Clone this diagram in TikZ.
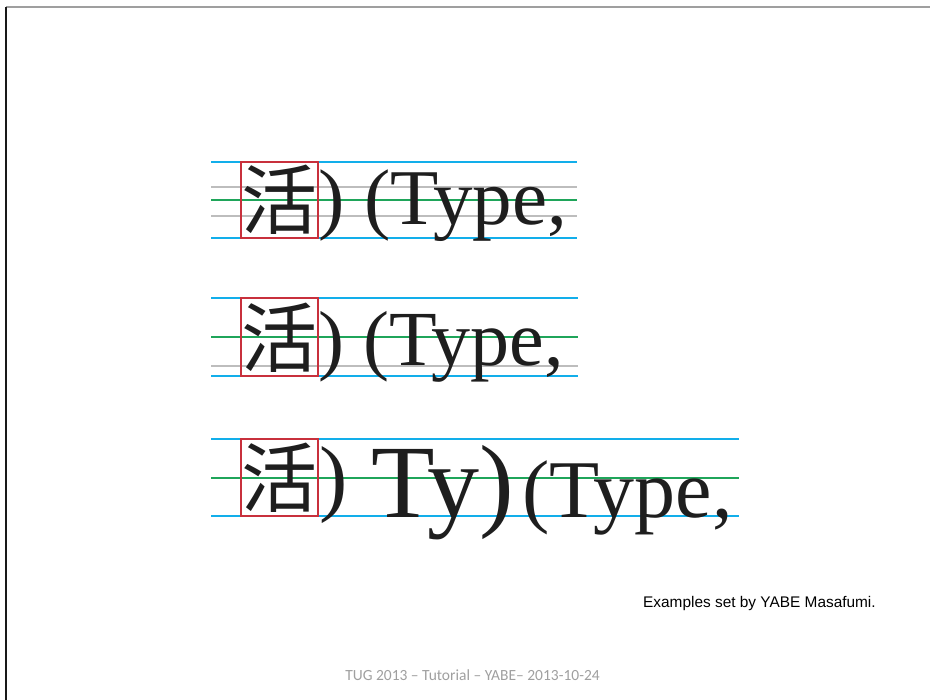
\documentclass[tikz,border=0pt]{standalone}
\usepackage{fontspec}
\setmainfont{Liberation Serif}
\newfontfamily\cjk{Noto Sans CJK JP}
\newfontfamily\capfont{Liberation Sans}
\newfontfamily\footfont{Carlito}
\definecolor{cyanl}{HTML}{12AEEA}
\definecolor{greenl}{HTML}{1FA55A}
\definecolor{grayl}{HTML}{BDBDBD}
\definecolor{redbox}{HTML}{C8303C}
\definecolor{inkc}{HTML}{1E1E1E}
\tikzset{
  guide/.style={line width=1.8pt},
  kbox/.style={draw=redbox, line width=1.4pt},
  glyphs/.style={inner sep=0pt, outer sep=0pt, anchor=base west, text=inkc},
  kanji/.style={glyphs, font=\cjk\fontsize{76}{76}\selectfont},
}
\begin{document}
\begin{tikzpicture}[x=1pt, y=-1pt]
\useasboundingbox (0,0) rectangle (930,700);
% frame
\draw[line width=1.8pt, gray!75] (6,7) -- (930,7);
\draw[line width=1.4pt, black!90] (6,7) -- (6,700);

% ---------- row 1
\draw[guide, cyanl] (211,162) -- (577,162);
\draw[guide, grayl] (211,187) -- (577,187);
\draw[guide, greenl] (211,200) -- (577,200);
\draw[guide, grayl] (211,216) -- (577,216);
\draw[guide, cyanl] (211,238) -- (577,238);
\node[kanji] (k1) at (241,228.9) {活};
\draw[kbox] (241,162) rectangle (318,238);
\node[glyphs, font=\fontsize{79}{79}\selectfont] (t1) at (318,225) {) (Type,};

% ---------- row 2
\draw[guide, cyanl] (211,298) -- (578,298);
\draw[guide, greenl] (211,337) -- (578,337);
\draw[guide, grayl] (211,366) -- (578,366);
\draw[guide, cyanl] (211,376) -- (578,376);
\node[kanji] (k2) at (241,366.9) {活};
\draw[kbox] (241,298) rectangle (318,376);
\node[glyphs, font=\fontsize{78}{78}\selectfont] (t2) at (318,366) {) (Type,};

% ---------- row 3
\draw[guide, cyanl] (211,439) -- (739,439);
\draw[guide, greenl] (211,478) -- (739,478);
\draw[guide, cyanl] (211,516) -- (739,516);
\node[kanji] (k3) at (241,506.9) {活};
\draw[kbox] (241,439) rectangle (318,516);
\node[glyphs, font=\fontsize{85}{85}\selectfont] (p3) at (319,506) {)};
\node[glyphs, font=\fontsize{104}{104}\selectfont] (b3) at (371,518) {Ty)};
\node[glyphs, font=\fontsize{82}{82}\selectfont] (t3) at (522,518) {(Type,};

% ---------- captions
\node[inner sep=0pt, anchor=base west, font=\capfont\fontsize{15.4}{15.4}\selectfont] (cap) at (643,608) {Examples set by YABE Masafumi.};
\node[inner sep=0pt, anchor=base, text=gray!75, font=\footfont\fontsize{15.5}{15.5}\selectfont] (foot) at (472.5,680) {TUG 2013 – Tutorial – YABE– 2013-10-24};
\end{tikzpicture}
\end{document}
